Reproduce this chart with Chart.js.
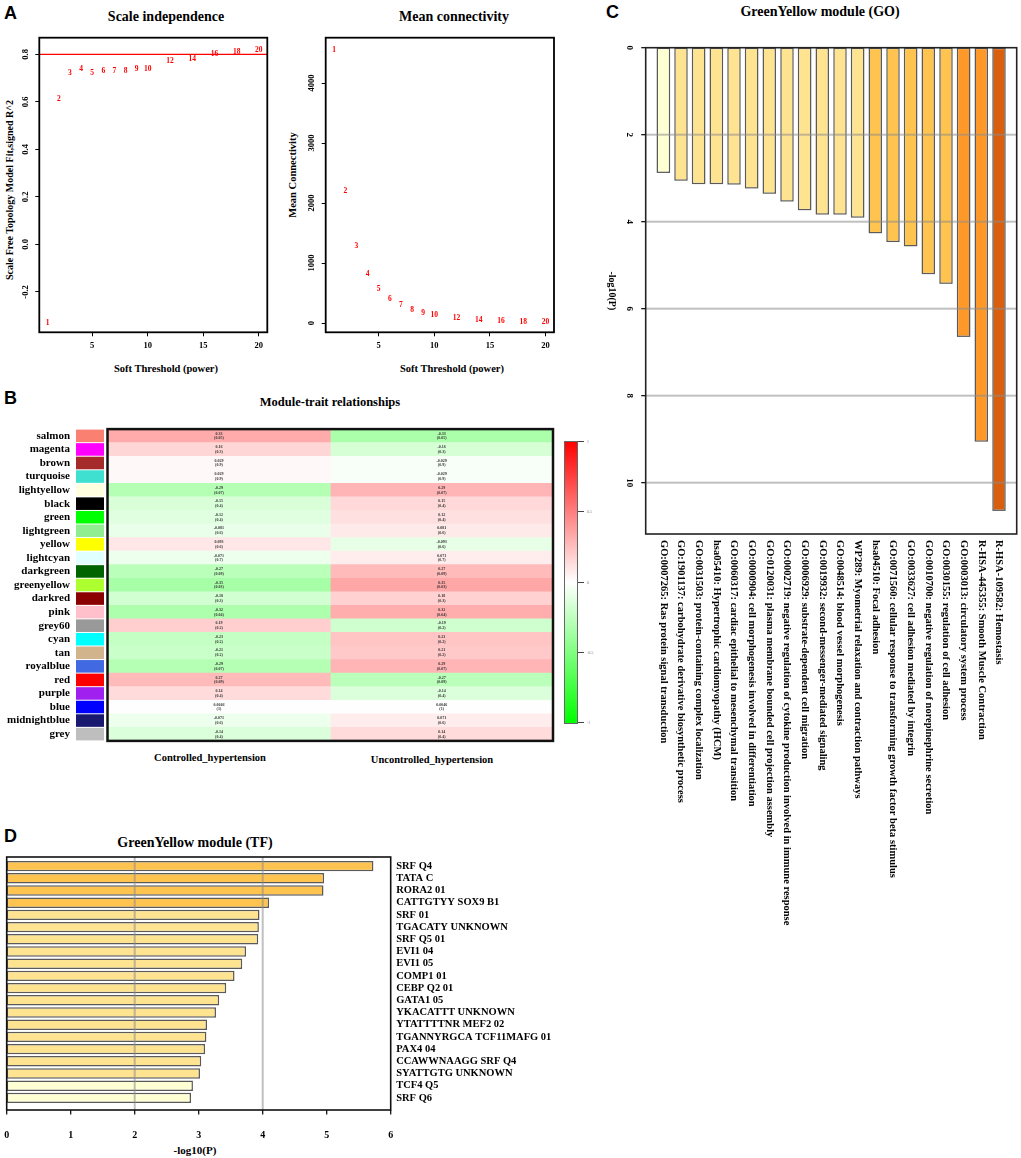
<!DOCTYPE html>
<html>
<head>
<meta charset="utf-8">
<script src="https://cdn.jsdelivr.net/npm/chart.js@4.4.1/dist/chart.umd.min.js"></script>
<style>
  body { margin: 0; background: #fff; width: 1021px; height: 1158px; position: relative; overflow: hidden; font-family: 'Liberation Serif', 'Times New Roman', serif; }
  canvas { position: absolute; }
  .t { position: absolute; font-weight: bold; white-space: nowrap; transform: translate(-50%, -50%); color: #000; }
  .v { position: absolute; font-weight: bold; white-space: nowrap; transform: translate(-50%, -50%) rotate(-90deg); color: #000; }
  .lt { position: absolute; font-family: 'Liberation Sans', Arial, sans-serif; font-weight: bold; font-size: 18px; }
  .cb { position: absolute; left: 564px; top: 441px; width: 12px; height: 281px; border: 1px solid #666;
        background: linear-gradient(to bottom, #ff0000, #ffffff 50%, #00ff00); }
  .cbt { position: absolute; left: 578px; width: 6px; height: 1px; background: #444; }
  .cbl { position: absolute; left: 587px; font-size: 4px; color: #777; transform: translateY(-50%); }
</style>
</head>
<body>
<div class="lt" style="left:4px;top:3px">A</div>
<div class="t" style="left:166px;top:17px;font-size:14px">Scale independence</div>
<div class="t" style="left:454px;top:17px;font-size:14px">Mean connectivity</div>
<div class="t" style="left:166px;top:368px;font-size:10.5px">Soft Threshold (power)</div>
<div class="t" style="left:452px;top:368px;font-size:10.5px">Soft Threshold (power)</div>
<div class="v" style="left:9px;top:190px;font-size:10px">Scale Free Topology Model Fit,signed R^2</div>
<div class="v" style="left:292px;top:175px;font-size:10.5px">Mean Connectivity</div>

<div class="lt" style="left:4px;top:388px">B</div>
<div class="t" style="left:330px;top:402px;font-size:12.5px">Module-trait relationships</div>
<div class="t" style="left:210px;top:757px;font-size:10.5px">Controlled_hypertension</div>
<div class="t" style="left:432px;top:759px;font-size:10.5px">Uncontrolled_hypertension</div>
<div class="cb"></div>
<div id="cbar"></div>

<div class="lt" style="left:606px;top:2px">C</div>
<div class="t" style="left:820px;top:12px;font-size:14px">GreenYellow module (GO)</div>

<div class="lt" style="left:4px;top:826px">D</div>
<div class="t" style="left:195px;top:843px;font-size:14px">GreenYellow module (TF)</div>
<div class="t" style="left:195px;top:1150px;font-size:11px">-log10(P)</div>

<canvas id="cA1" width="280" height="385" style="left:0;top:0"></canvas>
<canvas id="cA2" width="300" height="385" style="left:280px;top:0"></canvas>
<canvas id="cB" width="600" height="400" style="left:0;top:385px"></canvas>
<canvas id="cC" width="925" height="421" style="left:600px;top:30px;transform-origin:0 0;transform:translateX(421px) rotate(90deg)"></canvas>
<canvas id="cD" width="600" height="313" style="left:0;top:845px"></canvas>

<script>
// ---- A: soft threshold ----
const powers = [1, 2, 3, 4, 5, 6, 7, 8, 9, 10, 12, 14, 16, 18, 20];
const scaleFitR2 = [-0.33, 0.61, 0.72, 0.74, 0.72, 0.73, 0.73, 0.73, 0.74, 0.74, 0.77, 0.78, 0.80, 0.81, 0.82];
const meanConn = [4545, 2205, 1283, 817, 572, 400, 300, 217, 172, 133, 78, 50, 33, 17, 11];
const powerTicks = [5, 10, 15, 20];
const r2Ticks = [-0.2, 0, 0.2, 0.4, 0.6, 0.8];
const connTicks = [0, 1000, 2000, 3000, 4000];
const r2Cutoff = 0.8;

// ---- B: module-trait ----
const modules = ['salmon', 'magenta', 'brown', 'turquoise', 'lightyellow', 'black', 'green', 'lightgreen',
  'yellow', 'lightcyan', 'darkgreen', 'greenyellow', 'darkred', 'pink', 'grey60', 'cyan', 'tan',
  'royalblue', 'red', 'purple', 'blue', 'midnightblue', 'grey'];
const ctrlCor = [0.33, 0.16, 0.029, 0.029, -0.29, -0.15, -0.12, -0.081, 0.093, -0.071, -0.27, -0.35,
  -0.18, -0.32, 0.19, -0.23, -0.21, -0.29, 0.27, 0.14, 0.0046, -0.071, -0.14];
const unctrlCor = [-0.33, -0.16, -0.029, -0.029, 0.29, 0.15, 0.12, 0.081, -0.093, 0.071, 0.27, 0.35,
  0.18, 0.32, -0.19, 0.23, 0.21, 0.29, -0.27, -0.14, 0.0046, 0.071, 0.14];
const corP = [0.05, 0.3, 0.9, 0.9, 0.07, 0.4, 0.4, 0.6, 0.6, 0.7, 0.09, 0.03, 0.3, 0.04, 0.2, 0.2, 0.2,
  0.07, 0.09, 0.4, 1, 0.6, 0.4];
const traits = ['Controlled_hypertension', 'Uncontrolled_hypertension'];
const corTicks = [1, 0.5, 0, -0.5, -1];

// ---- C: GO enrichment ----
const goTerms = ['GO:0007265: Ras protein signal transduction',
  'GO:1901137: carbohydrate derivative biosynthetic process',
  'GO:0031503: protein-containing complex localization',
  'hsa05410: Hypertrophic cardiomyopathy (HCM)',
  'GO:0060317: cardiac epithelial to mesenchymal transition',
  'GO:0000904: cell morphogenesis involved in differentiation',
  'GO:0120031: plasma membrane bounded cell projection assembly',
  'GO:0002719: negative regulation of cytokine production involved in immune response',
  'GO:0006929: substrate-dependent cell migration',
  'GO:0019932: second-messenger-mediated signaling',
  'GO:0048514: blood vessel morphogenesis',
  'WP289: Myometrial relaxation and contraction pathways',
  'hsa04510: Focal adhesion',
  'GO:0071560: cellular response to transforming growth factor beta stimulus',
  'GO:0033627: cell adhesion mediated by integrin',
  'GO:0010700: negative regulation of norepinephrine secretion',
  'GO:0030155: regulation of cell adhesion',
  'GO:0003013: circulatory system process',
  'R-HSA-445355: Smooth Muscle Contraction',
  'R-HSA-109582: Hemostasis'];
const goLogP = [2.88, 3.06, 3.14, 3.14, 3.15, 3.24, 3.36, 3.54, 3.74, 3.84, 3.84, 3.91, 4.27, 4.47, 4.57,
  5.21, 5.43, 6.65, 9.06, 10.65];
const goTicks = [0, 2, 4, 6, 8, 10];

// ---- D: TF enrichment ----
const tfNames = ['SRF Q4', 'TATA C', 'RORA2 01', 'CATTGTYY SOX9 B1', 'SRF 01', 'TGACATY UNKNOWN', 'SRF Q5 01',
  'EVI1 04', 'EVI1 05', 'COMP1 01', 'CEBP Q2 01', 'GATA1 05', 'YKACATTT UNKNOWN', 'YTATTTTNR MEF2 02',
  'TGANNYRGCA TCF11MAFG 01', 'PAX4 04', 'CCAWWNAAGG SRF Q4', 'SYATTGTG UNKNOWN', 'TCF4 Q5', 'SRF Q6'];
const tfLogP = [5.73, 4.96, 4.95, 4.10, 3.95, 3.94, 3.93, 3.74, 3.68, 3.56, 3.43, 3.32, 3.27, 3.13, 3.12,
  3.10, 3.04, 3.02, 2.91, 2.88];
const tfTicks = [0, 1, 2, 3, 4, 5, 6];

const SERIF = "'Liberation Serif', 'Times New Roman', serif";
// R colour names that differ from CSS
const rColor = { green: '#00ff00', purple: '#a020f0', grey: '#bebebe', grey60: '#999999' };

function pColor(v) {
  if (v >= 10) return '#d95f0e';
  if (v >= 6) return '#fe9929';
  if (v >= 4) return '#fec44f';
  if (v >= 3) return '#fee391';
  return '#ffffd4';
}
function corColor(r) {
  const c = Math.round(255 * (1 - Math.min(1, Math.abs(r))));
  return r >= 0 ? `rgb(255,${c},${c})` : `rgb(${c},255,${c})`;
}
function fixTicks(list) { return s => { s.ticks = list.map(v => ({ value: v })); }; }

function text(ctx, s, x, y, font, rot, color) {
  ctx.save();
  ctx.translate(x, y);
  if (rot) ctx.rotate(rot);
  ctx.font = font;
  ctx.fillStyle = color || '#000';
  ctx.textAlign = 'center';
  ctx.textBaseline = 'middle';
  ctx.fillText(s, 0, 0);
  ctx.restore();
}

// box around plot, optionally padded out from chartArea
const framePlugin = {
  id: 'frame',
  afterDraw(chart, args, o) {
    const a = chart.chartArea, p = o.pad || [0, 0, 0, 0], ctx = chart.ctx;
    ctx.save();
    ctx.strokeStyle = o.color || '#000';
    ctx.lineWidth = o.lw || 1.5;
    ctx.strokeRect(a.left - p[3], a.top - p[0], a.right - a.left + p[1] + p[3], a.bottom - a.top + p[0] + p[2]);
    ctx.restore();
  }
};

// grid lines over the bars, tick marks and tick labels under the (padded) frame
function enrichAxis(ticks, padTop, padBottom, labelY, fontSize, gridAt) {
  return {
    id: 'enrichAxis',
    afterDatasetsDraw(chart) {
      const ctx = chart.ctx, xs = chart.scales.x, a = chart.chartArea;
      const t = a.top - padTop, b = a.bottom + padBottom;
      ctx.save();
      ticks.forEach(v => {
        const x = xs.getPixelForValue(v);
        if (gridAt(v)) {
          ctx.strokeStyle = 'rgba(140,140,140,0.55)'; ctx.lineWidth = 2;
          ctx.beginPath(); ctx.moveTo(x, t); ctx.lineTo(x, b); ctx.stroke();
        }
        ctx.strokeStyle = '#000'; ctx.lineWidth = 1.2;
        ctx.beginPath(); ctx.moveTo(x, b); ctx.lineTo(x, b + 4.5); ctx.stroke();
        text(ctx, String(v), x, labelY, `bold ${fontSize}px ${SERIF}`);
      });
      ctx.restore();
    }
  };
}

// ---- A panels ----
function softChart(id, values, yTicks, ymin, ymax, area, labelX, fmt, cutoff) {
  const axisW = area.left, axisH = area.H - area.bottom;
  new Chart(document.getElementById(id), {
    type: 'scatter',
    data: { datasets: [{ data: powers.map((p, i) => ({ x: p, y: values[i] })), pointRadius: 0 }] },
    options: {
      responsive: false, animation: false,
      layout: { padding: { top: area.top, right: area.W - area.right, left: 0, bottom: 0 } },
      scales: {
        x: {
          type: 'linear', min: 0.24, max: 20.76, afterBuildTicks: fixTicks(powerTicks),
          afterFit: s => { s.height = axisH; },
          grid: { drawOnChartArea: false, drawTicks: true, tickLength: 4, tickColor: '#000' },
          border: { display: false },
          ticks: { color: '#000', padding: 4, maxRotation: 0, autoSkip: false, font: { family: SERIF, weight: 'bold', size: 8.5 } }
        },
        y: {
          min: ymin, max: ymax, afterBuildTicks: fixTicks(yTicks),
          afterFit: s => { s.width = axisW; },
          grid: { drawOnChartArea: false, drawTicks: true, tickLength: 4, tickColor: '#000' },
          border: { display: false },
          ticks: { display: false }
        }
      },
      plugins: {
        legend: { display: false }, tooltip: { enabled: false },
        frame: { lw: 1.8 }
      }
    },
    plugins: [framePlugin, {
      id: 'softText',
      afterDatasetsDraw(chart) {
        const ctx = chart.ctx, ys = chart.scales.y, a = chart.chartArea;
        if (cutoff !== undefined) {
          const yy = ys.getPixelForValue(cutoff);
          ctx.save(); ctx.strokeStyle = '#ff0000'; ctx.lineWidth = 1.3;
          ctx.beginPath(); ctx.moveTo(a.left, yy); ctx.lineTo(a.right, yy); ctx.stroke(); ctx.restore();
        }
        chart.getDatasetMeta(0).data.forEach((pt, i) =>
          text(ctx, String(powers[i]), pt.x, pt.y, `bold 7.5px ${SERIF}`, 0, '#ff0000'));
        yTicks.forEach(v => text(ctx, fmt(v), labelX, ys.getPixelForValue(v), `bold 8.5px ${SERIF}`, -Math.PI / 2));
      }
    }]
  });
}
softChart('cA1', scaleFitR2, r2Ticks, -0.37, 0.87,
  { W: 280, H: 385, left: 39.3, right: 267.3, top: 37.7, bottom: 332.3 }, 26, v => v.toFixed(1), r2Cutoff);
softChart('cA2', meanConn, connTicks, -155, 4755,
  { W: 300, H: 385, left: 45.7, right: 274, top: 37.7, bottom: 332.3 }, 32, v => String(v));

// ---- B heatmap (stacked bars = cells) ----
new Chart(document.getElementById('cB'), {
  type: 'bar',
  data: {
    labels: modules,
    datasets: [
      { label: traits[0], data: ctrlCor.map(() => 1), backgroundColor: ctrlCor.map(corColor), cor: ctrlCor },
      { label: traits[1], data: unctrlCor.map(() => 1), backgroundColor: unctrlCor.map(corColor), cor: unctrlCor }
    ]
  },
  options: {
    indexAxis: 'y', responsive: false, animation: false,
    layout: { padding: { top: 38.5, right: 47, bottom: 44, left: 0 } },
    datasets: { bar: { barPercentage: 1, categoryPercentage: 1, borderWidth: 0 } },
    scales: {
      x: { stacked: true, min: 0, max: 2, display: false },
      y: {
        stacked: true, afterFit: s => { s.width = 107.5; },
        grid: { display: false, drawTicks: false }, border: { display: false },
        ticks: { autoSkip: false, color: '#000', padding: 37.5, font: { family: SERIF, weight: 'bold', size: 11 } }
      }
    },
    plugins: { legend: { display: false }, tooltip: { enabled: false }, frame: { lw: 2.5, color: '#111' } }
  },
  plugins: [framePlugin, {
    id: 'cells',
    afterDatasetsDraw(chart) {
      const ctx = chart.ctx, ys = chart.scales.y, a = chart.chartArea;
      const band = (a.bottom - a.top) / modules.length;
      modules.forEach((m, i) => {
        const yc = ys.getPixelForValue(i);
        ctx.fillStyle = rColor[m] || m;
        ctx.fillRect(76, yc - band / 2 + 0.5, 28, band - 1);
      });
      chart.data.datasets.forEach((ds, d) => {
        chart.getDatasetMeta(d).data.forEach((bar, i) => {
          const xc = (bar.x + bar.base) / 2;
          text(ctx, ds.cor[i].toPrecision(2), xc, bar.y - 2.4, `bold 4px ${SERIF}`, 0, '#333');
          text(ctx, '(' + corP[i] + ')', xc, bar.y + 2.4, `bold 4px ${SERIF}`, 0, '#333');
        });
      });
    }
  }]
});

// colour bar ticks (HTML)
(function () {
  const top = 441, h = 281, box = document.getElementById('cbar');
  corTicks.forEach(v => {
    const y = top + (1 - v) / 2 * h;
    box.insertAdjacentHTML('beforeend',
      `<div class="cbt" style="top:${y}px"></div><div class="cbl" style="top:${y}px">${v}</div>`);
  });
})();

// ---- C: drawn as a horizontal bar chart, canvas turned 90deg clockwise ----
new Chart(document.getElementById('cC'), {
  type: 'bar',
  data: {
    labels: goTerms,
    datasets: [{ data: goLogP, backgroundColor: goLogP.map(pColor), borderColor: '#5a5a5a', borderWidth: 1.5,
      borderSkipped: false, barPercentage: 0.77, categoryPercentage: 1 }]
  },
  options: {
    indexAxis: 'y', responsive: false, animation: false,
    layout: { padding: { left: 17.7, top: 13.2, right: 0, bottom: 0 } },
    scales: {
      x: {
        min: 0, max: 11.18, afterBuildTicks: fixTicks(goTicks), afterFit: s => { s.height = 54.5; },
        grid: { display: false, drawTicks: false }, border: { display: false },
        ticks: { display: false }
      },
      y: {
        position: 'right', reverse: true, afterFit: s => { s.width = 925 - 504; },
        grid: { display: false, drawTicks: false }, border: { display: false },
        ticks: { autoSkip: false, color: '#000', padding: 6, font: { family: SERIF, weight: 'bold', size: 10.5 } }
      }
    },
    plugins: { legend: { display: false }, tooltip: { enabled: false }, frame: { lw: 1.6, color: '#222', pad: [8.9, 0, 8.8, 0] } }
  },
  plugins: [framePlugin, enrichAxis(goTicks, 8.9, 8.8, 392, 9, v => v > 0), {
    id: 'goTitle',
    afterDraw(chart) {
      const a = chart.chartArea;
      text(chart.ctx, '-log10(P)', (a.left + a.right) / 2, 409, `bold 10px ${SERIF}`);
    }
  }]
});

// ---- D: TF horizontal bars ----
new Chart(document.getElementById('cD'), {
  type: 'bar',
  data: {
    labels: tfNames,
    datasets: [{ data: tfLogP, backgroundColor: tfLogP.map(pColor), borderColor: '#5a5a5a', borderWidth: 1.5,
      borderSkipped: false, barPercentage: 0.85, categoryPercentage: 1 }]
  },
  options: {
    indexAxis: 'y', responsive: false, animation: false,
    layout: { padding: { left: 6.7, top: 15, right: 0, bottom: 0 } },
    scales: {
      x: {
        min: 0, max: 6, afterBuildTicks: fixTicks(tfTicks), afterFit: s => { s.height = 54; },
        grid: { display: false, drawTicks: false }, border: { display: false },
        ticks: { display: false }
      },
      y: {
        position: 'right', afterFit: s => { s.width = 209.3; },
        grid: { display: false, drawTicks: false }, border: { display: false },
        ticks: { autoSkip: false, color: '#000', padding: 5.5, font: { family: SERIF, weight: 'bold', size: 10.5 } }
      }
    },
    plugins: { legend: { display: false }, tooltip: { enabled: false }, frame: { lw: 1.6, color: '#111', pad: [3, 0, 6, 0] } }
  },
  plugins: [framePlugin, enrichAxis(tfTicks, 3, 6, 290, 10, v => v > 0 && v < 6 && v % 2 === 0)]
});
</script>
</body>
</html>
